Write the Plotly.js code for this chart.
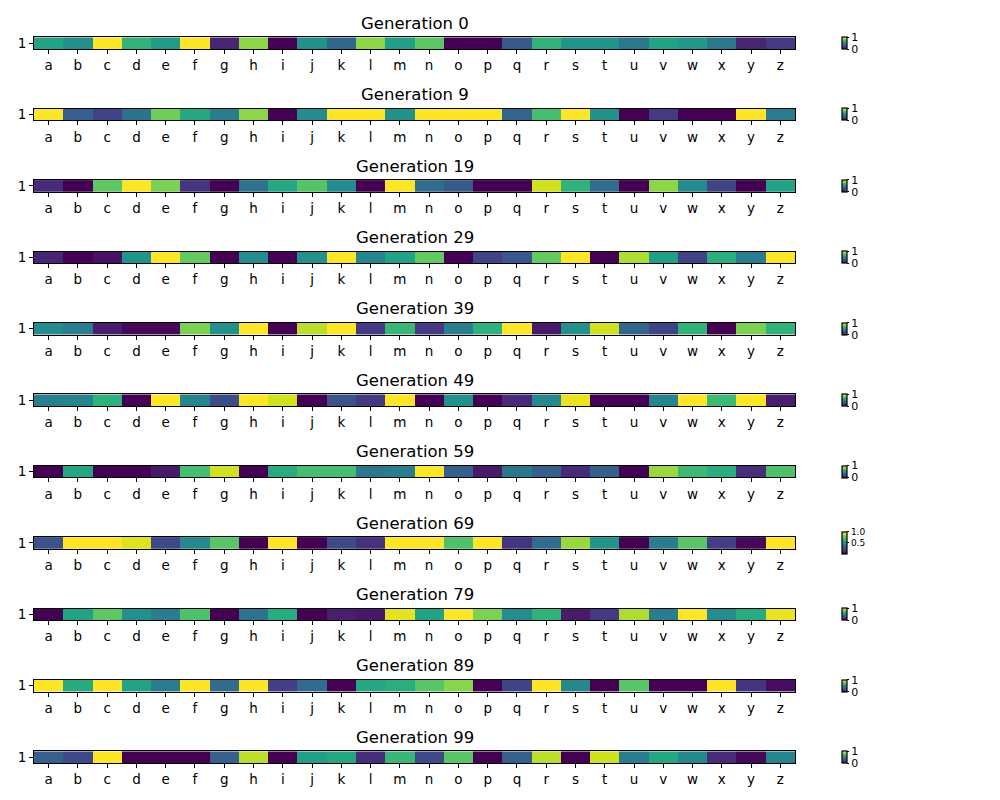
<!DOCTYPE html>
<html>
<head>
<meta charset="utf-8">
<script src="https://cdn.plot.ly/plotly-3.0.1.min.js"></script>
<style>html,body{margin:0;padding:0;background:#fff;}#chart{width:1000px;height:800px;}</style>
</head>
<body>
<div id="chart"></div>
<script>
const letters = ['a','b','c','d','e','f','g','h','i','j','k','l','m','n','o','p','q','r','s','t','u','v','w','x','y','z'];
const generations = [0, 9, 19, 29, 39, 49, 59, 69, 79, 89, 99];
const rowLabel = ['1'];

const gen0  = [0.58,0.50,1.00,0.65,0.55,1.00,0.10,0.83,0.00,0.50,0.33,0.83,0.57,0.75,0.00,0.00,0.28,0.65,0.52,0.52,0.40,0.58,0.53,0.40,0.10,0.17];
const gen9  = [1.00,0.30,0.20,0.38,0.78,0.60,0.42,0.83,0.00,0.48,1.00,1.00,0.50,1.00,1.00,1.00,0.32,0.70,1.00,0.50,0.00,0.17,0.00,0.00,1.00,0.42];
const gen19 = [0.12,0.00,0.75,1.00,0.80,0.15,0.00,0.38,0.60,0.73,0.48,0.00,1.00,0.35,0.28,0.00,0.00,0.93,0.65,0.35,0.00,0.83,0.48,0.20,0.00,0.58];
const gen29 = [0.10,0.00,0.04,0.52,1.00,0.76,0.00,0.48,0.00,0.50,1.00,0.46,0.58,0.76,0.00,0.20,0.27,0.76,1.00,0.00,0.88,0.57,0.20,0.63,0.42,1.00];
const gen39 = [0.48,0.42,0.08,0.02,0.02,0.80,0.50,1.00,0.00,0.90,1.00,0.17,0.67,0.17,0.43,0.64,1.00,0.07,0.50,0.93,0.33,0.20,0.65,0.00,0.80,0.65];
const gen49 = [0.43,0.45,0.64,0.00,1.00,0.45,0.23,1.00,0.93,0.00,0.25,0.17,1.00,0.00,0.50,0.00,0.12,0.47,0.97,0.00,0.00,0.45,1.00,0.68,1.00,0.08];
const gen59 = [0.00,0.60,0.00,0.00,0.07,0.70,0.93,0.00,0.62,0.70,0.70,0.40,0.42,1.00,0.30,0.07,0.40,0.30,0.12,0.30,0.00,0.85,0.68,0.63,0.13,0.72];
const gen69 = [0.25,1.00,1.00,0.95,0.22,0.47,0.74,0.00,1.00,0.00,0.22,0.14,1.00,1.00,0.72,1.00,0.15,0.35,0.85,0.52,0.00,0.42,0.74,0.18,0.02,1.00];
const gen79 = [0.00,0.58,0.75,0.50,0.42,0.72,0.00,0.38,0.62,0.00,0.08,0.06,0.96,0.58,1.00,0.80,0.48,0.65,0.07,0.17,0.88,0.42,1.00,0.48,0.62,0.97];
const gen89 = [1.00,0.62,1.00,0.58,0.42,1.00,0.35,1.00,0.18,0.35,0.00,0.60,0.63,0.74,0.82,0.00,0.20,1.00,0.47,0.00,0.74,0.00,0.00,1.00,0.15,0.03];
const gen99 = [0.30,0.22,1.00,0.00,0.00,0.00,0.30,0.90,0.00,0.56,0.60,0.13,0.67,0.22,0.74,0.00,0.30,0.90,0.00,0.93,0.42,0.60,0.47,0.12,0.02,0.45];

const series = [gen0, gen9, gen19, gen29, gen39, gen49, gen59, gen69, gen79, gen89, gen99];
const cbTickVals = [[0,1],[0,1],[0,1],[0,1],[0,1],[0,1],[0,1],[0.5,1],[0,1],[0,1],[0,1]];
const cbTickText = [['0','1'],['0','1'],['0','1'],['0','1'],['0','1'],['0','1'],['0','1'],['0.5','1.0'],['0','1'],['0','1'],['0','1']];

const W = 1000, H = 800;
const py = p => 1 - p / H;
const X0 = 34, X1 = 795, TOP0 = 37.3, STEP = 71.4, BAR_H = 11.6;
const FONT = 'DejaVu Sans, sans-serif';

const data = [];
const layout = {
  width: W, height: H,
  margin: {l: 0, r: 0, t: 0, b: 0},
  paper_bgcolor: '#fff', plot_bgcolor: '#fff',
  font: {family: FONT, color: '#000', size: 13},
  showlegend: false,
  annotations: []
};

generations.forEach((g, i) => {
  const k = i + 1;
  const sfx = k === 1 ? '' : String(k);
  const top = TOP0 + i * STEP, bottom = top + BAR_H;
  const special = cbTickText[i][1] === '1.0';
  data.push({
    type: 'heatmap',
    x: letters, y: rowLabel, z: [series[i]],
    xaxis: 'x' + sfx, yaxis: 'y' + sfx,
    colorscale: 'Viridis', zmin: 0, zmax: 1,
    hoverinfo: 'x+z',
    colorbar: {
      x: 842 / W, xanchor: 'left', xpad: 0,
      y: py(top + BAR_H / 2), yanchor: 'middle', ypad: 0,
      len: special ? 22 : 12, lenmode: 'pixels', thickness: 5, thicknessmode: 'pixels',
      outlinecolor: '#000', outlinewidth: 1.2,
      tickvals: cbTickVals[i], ticktext: cbTickText[i],
      ticks: 'outside', ticklen: 2, tickcolor: '#000',
      tickfont: {family: FONT, size: special ? 9 : 11, color: '#000'}
    }
  });
  layout['xaxis' + sfx] = {
    domain: [X0 / W, X1 / W], anchor: 'y' + sfx,
    type: 'category', showgrid: false, zeroline: false,
    showline: true, mirror: true, linecolor: '#000', linewidth: 1,
    ticks: 'outside', ticklen: 4, tickcolor: '#000',
    tickfont: {family: FONT, size: 13.5, color: '#000'}, fixedrange: true
  };
  layout['yaxis' + sfx] = {
    domain: [py(bottom), py(top)], anchor: 'x' + sfx,
    type: 'category', showgrid: false, zeroline: false,
    showline: true, mirror: true, linecolor: '#000', linewidth: 1,
    ticks: 'outside', ticklen: 4, tickcolor: '#000',
    tickfont: {family: FONT, size: 13.5, color: '#000'}, fixedrange: true
  };
  layout.annotations.push({
    text: 'Generation ' + g, showarrow: false,
    xref: 'paper', yref: 'paper',
    x: (X0 + X1) / 2 / W, xanchor: 'center',
    y: py(top - 14), yanchor: 'middle',
    font: {family: FONT, size: 16.5, color: '#000'}
  });
});

Plotly.newPlot('chart', data, layout, {displayModeBar: false});
</script>
</body>
</html>
